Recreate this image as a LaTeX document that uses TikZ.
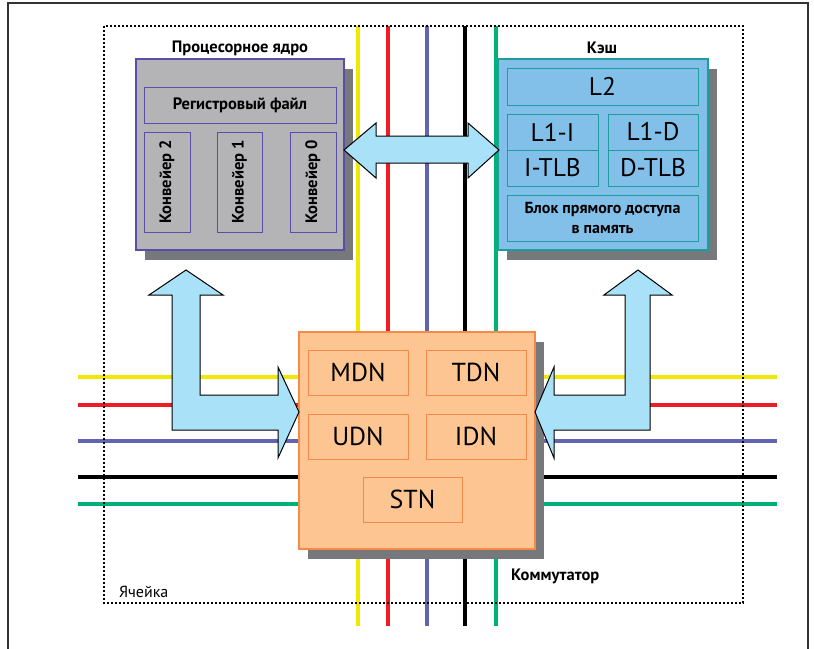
\documentclass[tikz,border=0pt]{standalone}
\usepackage{fontspec}
\setmainfont{PT Sans}
\usetikzlibrary{shadows}

\definecolor{procgray}{HTML}{B4B4B6}
\definecolor{procedge}{HTML}{5B4EA8}
\definecolor{shadowgray}{HTML}{77787B}
\definecolor{cacheblue}{HTML}{82C0EA}
\definecolor{cacheedge}{HTML}{1F9C9C}
\definecolor{switchfill}{HTML}{FDC592}
\definecolor{switchedge}{HTML}{F5894A}
\definecolor{arrowfill}{HTML}{A9E1F9}
\definecolor{busyellow}{HTML}{F0E800}
\definecolor{busred}{HTML}{EE1C25}
\definecolor{buspurple}{HTML}{6264B0}
\definecolor{busgreen}{HTML}{00B27A}
\definecolor{framegray}{HTML}{333333}

\begin{document}
\begin{tikzpicture}[x=1pt,y=-1pt,
  every node/.style={outer sep=0pt,inner sep=0pt},
  bigbox/.style={anchor=north west,line width=1.2pt,
    drop shadow={shadow xshift=9pt,shadow yshift=-10pt,opacity=1,fill=shadowgray}},
  procbox/.style={bigbox,draw=procedge,fill=procgray},
  cachebox/.style={bigbox,draw=cacheedge,fill=cacheblue},
  switchbox/.style={bigbox,draw=switchedge,fill=switchfill},
  procpart/.style={anchor=north west,draw=procedge,line width=0.9pt,
    font=\bfseries\fontsize{16.5}{18}\selectfont},
  cachepart/.style={anchor=north west,draw=cacheedge,line width=0.9pt},
  switchpart/.style={anchor=north west,draw=switchedge,line width=1pt,
    font=\fontsize{26}{28}\selectfont},
  bigtext/.style={font=\fontsize{25.5}{28}\selectfont},
  title/.style={font=\bfseries\fontsize{16.5}{18}\selectfont},
  bus/.style={line width=4pt},
  blockarrow/.style={draw=black,fill=arrowfill,line width=1pt,line join=miter}]
\useasboundingbox (0,0) rectangle (814,648);

% outer frame
\draw[framegray,line width=1.5pt] (8,660) -- (8,3) -- (808,3) -- (808,660);

% bus lines
\foreach \xx/\cc in {358/busyellow,388/busred,427/buspurple,465/black,496/busgreen}
  \draw[bus,\cc] (\xx,26) -- (\xx,626);
\foreach \yy/\cc in {377/busyellow,405/busred,441/buspurple,477/black,504/busgreen}
  \draw[bus,\cc] (78,\yy) -- (777,\yy);

% cell boundary
\draw[line width=1.3pt,dash pattern=on 2pt off 2pt] (104,26) rectangle (743,603);
\node[anchor=west,font=\fontsize{16}{18}\selectfont] (cell) at (119,592) {Ячейка};

% processor core
\node[procbox,minimum width=208pt,minimum height=191pt] (core) at (136,59) {};
\node[title] (coret) at (240,48) {Процесорное ядро};
\node[procpart,minimum width=192pt,minimum height=36pt] (reg) at (144,87) {Регистровый файл};
\node[procpart,minimum width=46pt,minimum height=100pt] (p2) at (144,132) {};
\node[procpart,minimum width=45pt,minimum height=100pt] (p1) at (217,132) {};
\node[procpart,minimum width=46pt,minimum height=100pt] (p0) at (290,132) {};
\node[rotate=90,font=\bfseries\fontsize{16.5}{18}\selectfont] at (p2) {Конвейер 2};
\node[rotate=90,font=\bfseries\fontsize{16.5}{18}\selectfont] at (p1) {Конвейер 1};
\node[rotate=90,font=\bfseries\fontsize{16.5}{18}\selectfont] at (p0) {Конвейер 0};

% cache
\node[cachebox,minimum width=210pt,minimum height=191pt] (cache) at (498,59) {};
\node[title] (cachet) at (602,48) {Кэш};
\node[cachepart,bigtext,minimum width=191pt,minimum height=37pt] (l2) at (507,68) {L2};
\node[cachepart,bigtext,minimum width=91pt,minimum height=36pt] (l1i) at (507,114) {L1-I};
\node[cachepart,bigtext,minimum width=91pt,minimum height=36pt] (itlb) at (507,150) {I-TLB};
\node[cachepart,bigtext,minimum width=90pt,minimum height=36pt] (l1d) at (608,114) {L1-D};
\node[cachepart,bigtext,minimum width=90pt,minimum height=36pt] (dtlb) at (608,150) {D-TLB};
\node[cachepart,minimum width=191pt,minimum height=46pt,align=center,
  font=\bfseries\fontsize{16}{20}\selectfont] (dma) at (507,195)
  {Блок прямого доступа\\в память};

% switch
\node[switchbox,minimum width=236pt,minimum height=217pt] (sw) at (299,332) {};
\node[switchpart,minimum width=100pt,minimum height=45pt] (mdn) at (308,350) {MDN};
\node[switchpart,minimum width=100pt,minimum height=45pt] (tdn) at (426,350) {TDN};
\node[switchpart,minimum width=100pt,minimum height=45pt] (udn) at (308,414) {UDN};
\node[switchpart,minimum width=100pt,minimum height=45pt] (idn) at (426,414) {IDN};
\node[switchpart,minimum width=99pt,minimum height=45pt] (stn) at (363,477) {STN};
\node[anchor=west,title] (swt) at (511,576) {Коммутатор};

% block arrows
\draw[blockarrow] (344,150) -- (376,123) -- (376,136) -- (468,136) -- (468,123)
  -- (499,150) -- (468,178) -- (468,163) -- (376,163) -- (376,178) -- cycle;
\draw[blockarrow] (186,270) -- (223,295) -- (200,295) -- (200,395) -- (278,395)
  -- (278,367) -- (299,412) -- (278,458) -- (278,430) -- (172,430) -- (172,295)
  -- (149,295) -- cycle;
\draw[blockarrow] (638,270) -- (672,295) -- (650,295) -- (650,430) -- (554,430)
  -- (554,458) -- (535,412) -- (554,367) -- (554,395) -- (625,395) -- (625,295)
  -- (604,295) -- cycle;
\end{tikzpicture}
\end{document}
